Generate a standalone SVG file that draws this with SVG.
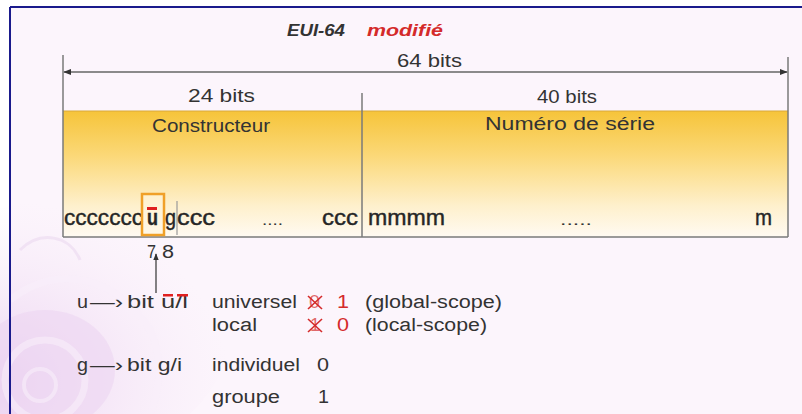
<svg xmlns="http://www.w3.org/2000/svg" width="802" height="414" viewBox="0 0 802 414">
<defs>
<style>
text{font-family:"Liberation Sans",Arial,sans-serif;fill:#333;}
.lbl{font-size:18px;}
.bits{font-size:22px;fill:#262626;stroke:#262626;stroke-width:0.4;}
.leg{font-size:18px;}
.red{fill:#d42a2a;}
.ln{stroke:#7a7a7a;stroke-width:1.5;fill:none;}
.xs{stroke:#d42a2a;stroke-width:1.6;}
</style>
<linearGradient id="yel" x1="0" y1="0" x2="0" y2="1">
<stop offset="0" stop-color="#f6c43a"/>
<stop offset="0.35" stop-color="#fbd877"/>
<stop offset="0.75" stop-color="#fef0cc"/>
<stop offset="1" stop-color="#fffaf2"/>
</linearGradient>
<radialGradient id="lav" cx="0.3" cy="0.7" r="0.7">
<stop offset="0" stop-color="#ead0f0"/>
<stop offset="1" stop-color="#f6e8f7" stop-opacity="0"/>
</radialGradient>
<marker id="ah" viewBox="0 0 10 10" refX="9" refY="5" markerWidth="6" markerHeight="6" orient="auto-start-reverse">
<path d="M0,1 L10,5 L0,9 z" fill="#333"/>
</marker>
</defs>

<g id="background">
<rect x="0" y="0" width="802" height="414" fill="#ffffff"/>
<rect x="10" y="7" width="792" height="407" fill="#fcf5fc"/>
<ellipse cx="60" cy="330" rx="170" ry="130" fill="url(#lav)"/>
<ellipse cx="45" cy="370" rx="70" ry="60" fill="#ecd6f1" opacity="0.6"/>
<circle cx="45" cy="380" r="40" fill="none" stroke="#f8eefa" stroke-width="7" opacity="0.6"/>
<circle cx="40" cy="385" r="16" fill="none" stroke="#f8eefa" stroke-width="4" opacity="0.6"/>
<path d="M10,300 C60,260 120,280 150,330 C170,370 150,414 150,414" fill="none" stroke="#f8eefa" stroke-width="7" opacity="0.6"/>
<path d="M20,250 C40,230 70,235 80,260" fill="none" stroke="#efdff2" stroke-width="3" opacity="0.8"/>
<line x1="10" y1="7" x2="802" y2="7" stroke="#1a1a8c" stroke-width="2"/>
<line x1="10" y1="7" x2="10" y2="414" stroke="#1a1a8c" stroke-width="2"/>
</g>

<g id="title">
<text x="287" y="36" font-size="17" font-weight="bold" font-style="italic" textLength="58" lengthAdjust="spacingAndGlyphs">EUI-64</text>
<text x="367" y="36" class="red" font-size="17" font-weight="bold" font-style="italic" textLength="76" lengthAdjust="spacingAndGlyphs">modifié</text>
</g>

<g id="field-box">
<rect x="63" y="111" width="725" height="126" fill="url(#yel)"/>
<line x1="63" y1="111" x2="788" y2="111" stroke="#d9a83a" stroke-width="1"/>
<line class="ln" x1="63" y1="237" x2="788" y2="237"/>
<line class="ln" x1="362" y1="93" x2="362" y2="237"/>
</g>

<g id="connectors">
<line class="ln" x1="63" y1="55" x2="63" y2="237"/>
<line class="ln" x1="788" y1="57" x2="788" y2="237"/>
<line x1="64" y1="72" x2="787" y2="72" stroke="#666" stroke-width="1.3" marker-start="url(#ah)" marker-end="url(#ah)"/>
<line x1="156" y1="293" x2="156" y2="254" stroke="#333" stroke-width="1.2" marker-end="url(#ah)"/>
</g>

<g id="labels">
<text class="lbl" x="397" y="67" font-size="17" textLength="65" lengthAdjust="spacingAndGlyphs">64 bits</text>
<text class="lbl" x="188" y="102" textLength="67" lengthAdjust="spacingAndGlyphs">24 bits</text>
<text class="lbl" x="537" y="103" textLength="60" lengthAdjust="spacingAndGlyphs">40 bits</text>
<text class="lbl" x="152" y="132" textLength="118" lengthAdjust="spacingAndGlyphs">Constructeur</text>
<text class="lbl" x="485" y="130" textLength="170" lengthAdjust="spacingAndGlyphs">Numéro de série</text>
</g>

<g id="bit-row">
<text class="bits" x="64" y="225" textLength="79" lengthAdjust="spacingAndGlyphs">ccccccc</text>
<rect x="142" y="194" width="22" height="41" fill="#fff6e0" fill-opacity="0.5" stroke="#f0a028" stroke-width="2.5"/>
<rect x="147" y="207" width="10" height="3" fill="#e02020"/>
<text class="bits" x="147" y="225" font-weight="bold" textLength="11" lengthAdjust="spacingAndGlyphs">u</text>
<text class="bits" x="165" y="225" textLength="11" lengthAdjust="spacingAndGlyphs">g</text>
<line x1="177" y1="201" x2="177" y2="235" stroke="#999" stroke-width="1.2"/>
<text class="bits" x="177" y="225" textLength="38" lengthAdjust="spacingAndGlyphs">ccc</text>
<text x="262" y="225" font-size="14" textLength="21" lengthAdjust="spacingAndGlyphs">....</text>
<text class="bits" x="322" y="225" textLength="36" lengthAdjust="spacingAndGlyphs">ccc</text>
<text class="bits" x="368" y="225" textLength="77" lengthAdjust="spacingAndGlyphs">mmmm</text>
<text x="560" y="225" font-size="14" textLength="32" lengthAdjust="spacingAndGlyphs">.....</text>
<text class="bits" x="755" y="225" textLength="17" lengthAdjust="spacingAndGlyphs">m</text>
<text x="147" y="258" font-size="18" textLength="9" lengthAdjust="spacingAndGlyphs">7</text>
<text x="162" y="258" font-size="18" textLength="12" lengthAdjust="spacingAndGlyphs">8</text>
</g>

<g id="legend-u">
<text class="leg" x="77" y="308" textLength="11" lengthAdjust="spacingAndGlyphs">u</text>
<text class="leg" x="90" y="308" textLength="33" lengthAdjust="spacingAndGlyphs">—›</text>
<text class="leg" x="127" y="308" textLength="61" lengthAdjust="spacingAndGlyphs">bit u/l</text>
<rect x="163" y="294" width="10" height="2.5" fill="#e02020"/>
<rect x="177" y="294" width="11" height="2.5" fill="#e02020"/>
<text class="leg" x="212" y="308" textLength="85" lengthAdjust="spacingAndGlyphs">universel</text>
<text class="leg red" x="309" y="308" textLength="11" lengthAdjust="spacingAndGlyphs" fill-opacity="0.7">0</text>
<line class="xs" x1="308" y1="296" x2="322" y2="309"/>
<line class="xs" x1="322" y1="296" x2="308" y2="309"/>
<text class="leg red" x="337" y="308" textLength="12" lengthAdjust="spacingAndGlyphs">1</text>
<text class="leg" x="365" y="308" textLength="137" lengthAdjust="spacingAndGlyphs">(global-scope)</text>
<text class="leg" x="212" y="331" textLength="45" lengthAdjust="spacingAndGlyphs">local</text>
<text class="leg red" x="310" y="331" textLength="10" lengthAdjust="spacingAndGlyphs" fill-opacity="0.7">1</text>
<line class="xs" x1="308" y1="319" x2="322" y2="332"/>
<line class="xs" x1="322" y1="319" x2="308" y2="332"/>
<text class="leg red" x="337" y="331" textLength="12" lengthAdjust="spacingAndGlyphs">0</text>
<text class="leg" x="365" y="331" textLength="122" lengthAdjust="spacingAndGlyphs">(local-scope)</text>
</g>

<g id="legend-g">
<text class="leg" x="77" y="371" textLength="11" lengthAdjust="spacingAndGlyphs">g</text>
<text class="leg" x="90" y="371" textLength="33" lengthAdjust="spacingAndGlyphs">—›</text>
<text class="leg" x="127" y="371" textLength="55" lengthAdjust="spacingAndGlyphs">bit g/i</text>
<text class="leg" x="212" y="371" textLength="88" lengthAdjust="spacingAndGlyphs">individuel</text>
<text class="leg" x="317" y="371" textLength="12" lengthAdjust="spacingAndGlyphs">0</text>
<text class="leg" x="212" y="403" textLength="68" lengthAdjust="spacingAndGlyphs">groupe</text>
<text class="leg" x="318" y="403" textLength="11" lengthAdjust="spacingAndGlyphs">1</text>
</g>
</svg>
